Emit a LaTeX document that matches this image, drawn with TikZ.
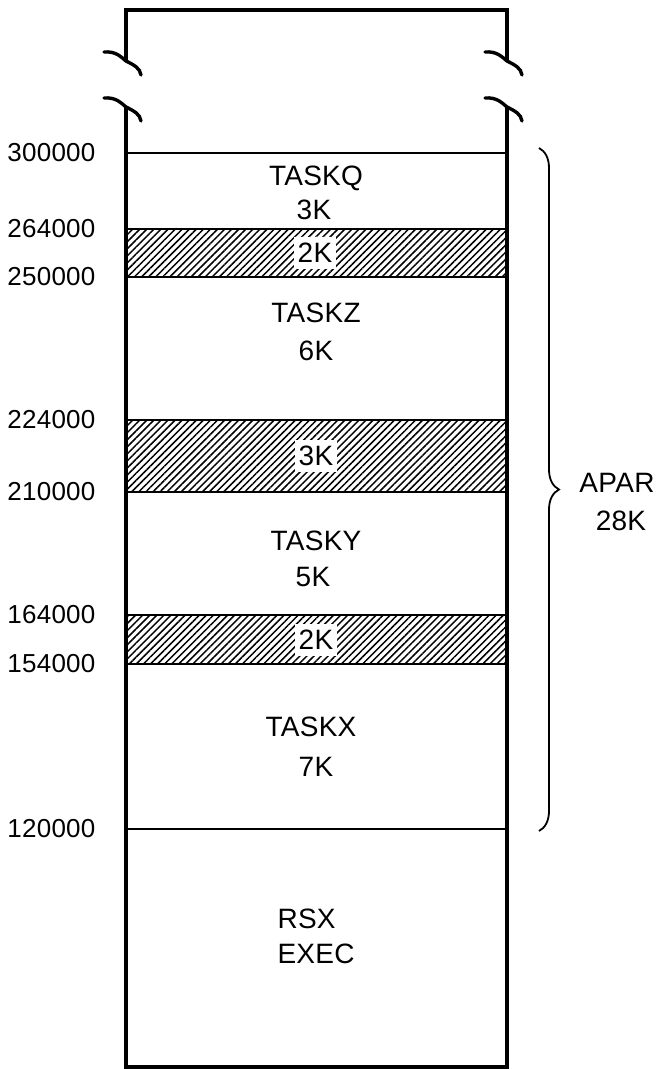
\documentclass[tikz,border=0pt]{standalone}
\usepackage{fontspec}
\setmainfont{Liberation Sans}[LetterSpace=1]
\usetikzlibrary{patterns.meta,decorations.pathreplacing}
\tikzset{
  wall/.style={line width=3.5pt},
  bound/.style={line width=2pt},
  addr/.style={anchor=east,font=\fontsize{26}{30}\selectfont},
  memtext/.style={font=\fontsize{28}{32}\selectfont},
  gap/.style={pattern={Lines[angle=45,distance=5pt,line width=1.5pt]}},
  gaplabel/.style={memtext,fill=white,inner xsep=4pt,inner ysep=6pt},
  brk/.style={line width=3.4pt,line cap=round},
}
\newcommand\wallbreak[1]{\draw[brk,shift={#1}] (-22,9) .. controls (-10,10) and (-5,4) .. (0,0) .. controls (8,-4) and (14,-7) .. (15,-14);}

\begin{document}
\begin{tikzpicture}[x=1pt,y=1pt]
  \useasboundingbox (0,0) rectangle (661,-1069);
  % free (hatched) areas
  \fill[gap] (126,-229) rectangle (507,-277);
  \fill[gap] (126,-420) rectangle (507,-492);
  \fill[gap] (126,-615) rectangle (507,-664);
  % partition boundaries and addresses
  \foreach \yy/\lbl in {153/300000,229/264000,277/250000,420/224000,492/210000,615/164000,664/154000,829/120000}{
    \draw[bound] (126,-\yy) -- (507,-\yy);
    \node[addr] (a\lbl) at (99,-\yy) {\lbl};
  }
  % memory walls
  \draw[wall] (126,-61) -- (126,-10) -- (507,-10) -- (507,-61);
  \draw[wall] (126,-107) -- (126,-1067) -- (507,-1067) -- (507,-107);
  \wallbreak{(126,-61)}
  \wallbreak{(126,-107)}
  \wallbreak{(507,-61)}
  \wallbreak{(507,-107)}
  % tasks
  \node[memtext] (tq) at (316,-178) {TASKQ};
  \node[memtext] (tqk) at (314,-210) {3K};
  \node[gaplabel] (g1) at (315,-253) {2K};
  \node[memtext] (tz) at (316,-313) {TASKZ};
  \node[memtext] (tzk) at (316,-351) {6K};
  \node[gaplabel] (g2) at (316,-456) {3K};
  \node[memtext] (ty) at (316,-541) {TASKY};
  \node[memtext] (tyk) at (313,-577) {5K};
  \node[gaplabel] (g3) at (316,-640) {2K};
  \node[memtext] (tx) at (311,-727) {TASKX};
  \node[memtext] (txk) at (316,-767) {7K};
  \node[memtext,anchor=west] (rsx) at (274,-919) {RSX};
  \node[memtext,anchor=west] (exec) at (274,-954) {EXEC};
  % partition
  \coordinate (bt) at (539,-148);
  \coordinate (bb) at (539,-831);
  \draw[line width=1.8pt,decorate,decoration={brace,amplitude=20pt}] (bt) -- (bb);
  \node[memtext] (apar) at (617,-483) {APAR};
  \node[memtext] (apark) at (621,-521) {28K};
\end{tikzpicture}
\end{document}
